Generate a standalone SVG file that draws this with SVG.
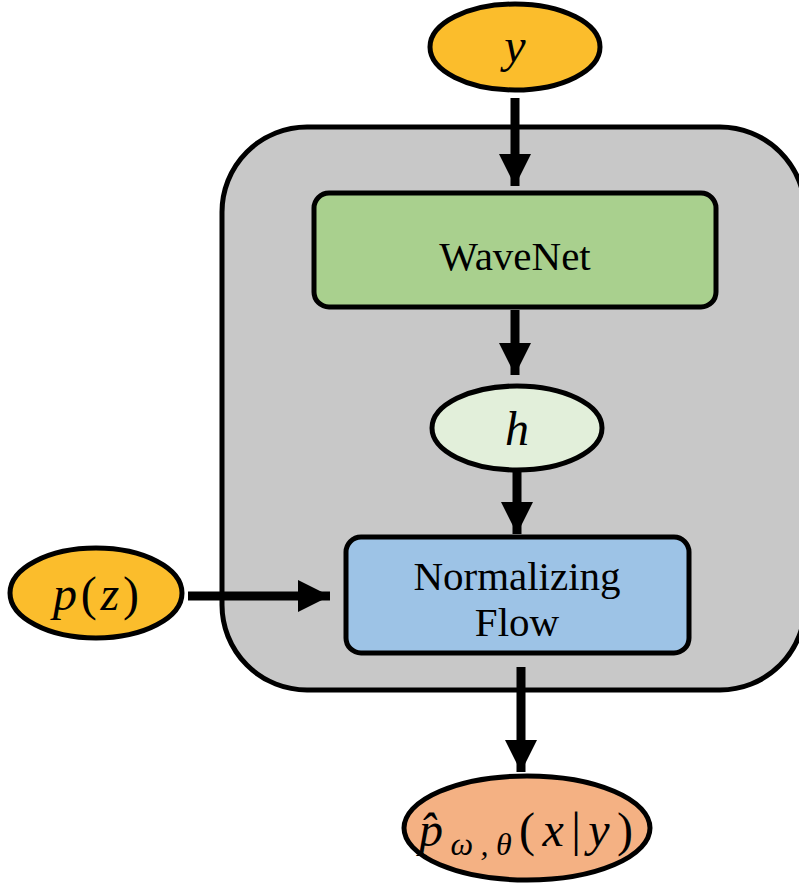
<svg xmlns="http://www.w3.org/2000/svg" width="799" height="886" viewBox="0 0 799 886">
<style>
.s{stroke:#000;stroke-width:5}
.t{font-family:"Liberation Serif","DejaVu Serif",serif;font-size:41px;text-anchor:middle;fill:#000}
.m{font-family:"Liberation Serif","DejaVu Serif",serif;font-style:italic;font-size:48px;text-anchor:middle;fill:#000}
.u{font-style:normal}
.sh{stroke:#000;stroke-width:9;fill:none}
</style>
<defs>
<marker id="ah" viewBox="0 0 32 32" refX="32" refY="16" markerWidth="32" markerHeight="32" markerUnits="userSpaceOnUse" orient="auto">
<path d="M0,0 L32,16 L0,32 Z" fill="#000"/>
</marker>
</defs>
<rect width="799" height="886" fill="#fff"/>
<g id="container"><rect class="s" x="222" y="127" width="583" height="563" rx="85" fill="#c8c8c8"/></g>
<g id="connectors">
<line class="sh" x1="515" y1="98" x2="515" y2="186" marker-end="url(#ah)"/>
<line class="sh" x1="515" y1="310" x2="515" y2="375" marker-end="url(#ah)"/>
<line class="sh" x1="517" y1="470" x2="517" y2="534" marker-end="url(#ah)"/>
<line class="sh" x1="188" y1="596" x2="330" y2="596" marker-end="url(#ah)"/>
<line class="sh" x1="521" y1="667" x2="521" y2="772" marker-end="url(#ah)"/>
</g>
<g id="y"><ellipse class="s" cx="515" cy="47" rx="85" ry="43" fill="#fbbd2c"/><text class="m" x="515" y="62">y</text></g>
<g id="wavenet"><rect class="s" x="314" y="193" width="402" height="114" rx="15" fill="#a9d08e"/><text class="t" x="515" y="270">WaveNet</text></g>
<g id="h"><ellipse class="s" cx="517" cy="428" rx="85" ry="42" fill="#e2efda"/><text class="m" x="517" y="445">h</text></g>
<g id="nf"><rect class="s" x="346" y="537" width="343" height="116" rx="15" fill="#9dc3e6"/><text class="t" x="517" y="590">Normalizing</text><text class="t" x="517" y="636">Flow</text></g>
<g id="pz"><ellipse class="s" cx="96" cy="593" rx="86" ry="45" fill="#fbbd2c"/><text class="m" x="96" y="610" textLength="86" lengthAdjust="spacing">p<tspan class="u">(</tspan>z<tspan class="u">)</tspan></text></g>
<g id="out"><ellipse class="s" cx="527" cy="828" rx="123" ry="52" fill="#f4b183"/><text class="m" x="526" y="846" font-size="52" textLength="214" lengthAdjust="spacing">p̂<tspan font-size="32" dy="9">ω,θ</tspan><tspan class="u" dy="-9">(</tspan>x<tspan class="u">|</tspan>y<tspan class="u">)</tspan></text></g>
</svg>
